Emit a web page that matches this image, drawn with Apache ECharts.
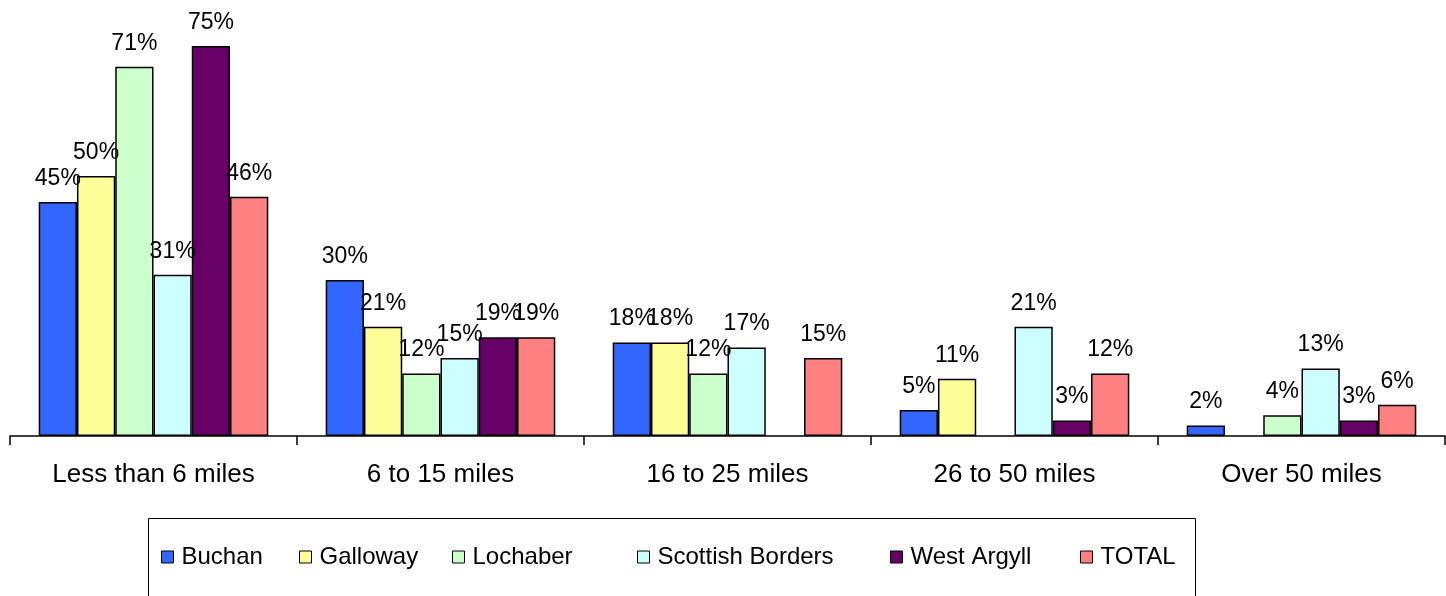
<!DOCTYPE html>
<html>
<head>
<meta charset="utf-8">
<script src="https://cdn.jsdelivr.net/npm/echarts@6/dist/echarts.min.js"></script>
<style>
  html, body { margin: 0; padding: 0; background: #fff; }
  #chart { width: 1446px; height: 596px; }
</style>
</head>
<body>
<div id="chart"></div>
<script>
// distance bands
var categories = ["Less than 6 miles", "6 to 15 miles", "16 to 25 miles", "26 to 50 miles", "Over 50 miles"];

// percentages per area (null = no bar)
var buchan = [45, 30, 18, 5, 2];
var galloway = [50, 21, 18, 11, null];
var lochaber = [71, 12, 12, null, 4];
var scottishBorders = [31, 15, 17, 21, 13];
var westArgyll = [75, 19, null, 3, 3];
var total = [46, 19, 15, 12, 6];

var seriesNames = ["Buchan", "Galloway", "Lochaber", "Scottish Borders", "West Argyll", "TOTAL"];
var seriesData = [buchan, galloway, lochaber, scottishBorders, westArgyll, total];
var colors = ["#3366FF", "#FFFF99", "#CCFFCC", "#CCFFFF", "#660066", "#FF8080"];

// x of each legend entry, like the original legend's columns
var legendLeft = [161, 299, 452, 637, 890, 1080];

var font = "'Liberation Sans', Arial, sans-serif";

var myChart = echarts.init(document.getElementById("chart"));

var series = seriesNames.map(function (name, i) {
  return {
    name: name,
    type: "bar",
    data: seriesData[i],
    barGap: 0,
    barCategoryGap: "20%",
    itemStyle: { color: colors[i], borderColor: "#000", borderWidth: 1.5 },
    label: {
      show: true,
      position: "top",
      distance: 12,
      formatter: "{c}%",
      color: "#000",
      fontSize: 23,
      fontFamily: font
    }
  };
});

// one legend per entry so the spacing follows the original
var legends = seriesNames.map(function (name, i) {
  return {
    data: [name],
    left: legendLeft[i],
    top: 545,
    padding: 0,
    itemWidth: 12,
    itemHeight: 12,
    icon: "rect",
    itemStyle: { borderColor: "#000", borderWidth: 1 },
    textStyle: { fontSize: 24, color: "#000", fontFamily: font, padding: [0, 0, 0, 3] }
  };
});

var option = {
  animation: false,
  color: colors,
  grid: { left: 10, right: 1, top: 20, bottom: 160 },
  legend: legends,
  graphic: [{
    // legend frame
    type: "rect",
    shape: { x: 148.5, y: 518.5, width: 1047, height: 100 },
    style: { fill: "none", stroke: "#000", lineWidth: 1 },
    silent: true
  }],
  xAxis: {
    type: "category",
    data: categories,
    axisLine: { lineStyle: { color: "#000", width: 1.5 } },
    axisTick: { show: true, length: 9, lineStyle: { color: "#000", width: 1.5 } },
    axisLabel: { color: "#000", fontSize: 26, fontFamily: font, margin: 26 }
  },
  yAxis: {
    type: "value",
    min: 0,
    max: 80,
    show: false
  },
  series: series
};

myChart.setOption(option);
</script>
</body>
</html>
